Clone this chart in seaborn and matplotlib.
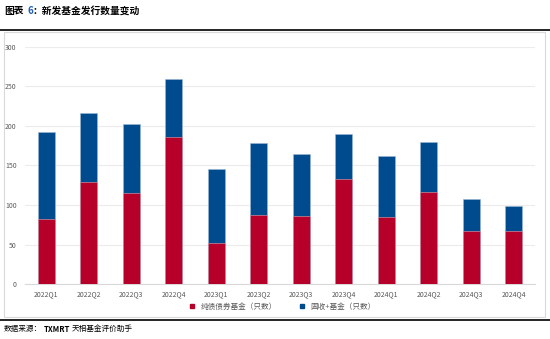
import matplotlib
matplotlib.use("Agg")
import matplotlib.pyplot as plt
import seaborn as sns
import pandas as pd
from matplotlib.patches import Rectangle
from matplotlib.lines import Line2D

quarters = ["2022Q1", "2022Q2", "2022Q3", "2022Q4", "2023Q1", "2023Q2",
            "2023Q3", "2023Q4", "2024Q1", "2024Q2", "2024Q3", "2024Q4"]
pure_bond = [82, 129, 115, 186, 52, 88, 86, 133, 85, 117, 67, 67]
fixed_plus = [110, 87, 87, 73, 93, 90, 79, 57, 77, 63, 41, 32]
yticks = [0, 50, 100, 150, 200, 250, 300]

RED = "#B70029"
BLUE = "#004B8D"
label_red = "纯债债券基金（只数）"
label_blue = "固收+基金（只数）"

sns.set_theme(style="white")
plt.rcParams["font.family"] = ["Noto Sans CJK SC", "DejaVu Sans"]

df = pd.DataFrame({"quarter": quarters, "pure": pure_bond,
                   "plus": fixed_plus})
df["total"] = df["pure"] + df["plus"]

fig = plt.figure(figsize=(5.5, 3.39), dpi=100)
ax = fig.add_axes([25 / 550, 1 - 284.3 / 339, 510 / 550, 237.8 / 339])

# outer chart frame
fig.patches.append(Rectangle((4 / 550, 1 - 317 / 339), 541 / 550, 285 / 339,
                             transform=fig.transFigure, fill=False,
                             edgecolor="#d9d9d9", linewidth=0.8, zorder=0))

# stacked bars: full height in blue, lower part in red
sns.barplot(data=df, x="quarter", y="total", color=BLUE, ax=ax, width=0.4,
            saturation=1, edgecolor="#9fb8d6", linewidth=0.4, zorder=2)
sns.barplot(data=df, x="quarter", y="pure", color=RED, ax=ax, width=0.4,
            saturation=1, edgecolor="#e2a3b0", linewidth=0.4, zorder=3)

ax.set_xlim(-0.5, len(quarters) - 0.5)
ax.set_ylim(0, 300)
ax.set_yticks(yticks)
ax.set_yticklabels([str(v) for v in yticks])
ax.set_xlabel("")
ax.set_ylabel("")
ax.grid(axis="y", color="#ececec", linewidth=0.8, zorder=0)
ax.set_axisbelow(True)
for s in ["top", "right", "left"]:
    ax.spines[s].set_visible(False)
ax.spines["bottom"].set_color("#d9d9d9")
ax.spines["bottom"].set_linewidth(0.8)
ax.tick_params(axis="both", length=0, labelsize=5, colors="#595959", pad=4)
ax.tick_params(axis="y", pad=6)

handles = [Line2D([], [], marker="s", linestyle="", color=RED, markersize=3),
           Line2D([], [], marker="s", linestyle="", color=BLUE, markersize=3)]
fig.legend(handles, [label_red, label_blue], loc="center",
           bbox_to_anchor=(280 / 550, 1 - 307 / 339), ncol=2, frameon=False,
           fontsize=5.5, handletextpad=0.1, columnspacing=2.2,
           labelcolor="#595959")

# title line
fig.text(4 / 550, 1 - 11 / 339, "图表", fontsize=7, fontweight="bold",
         color="black", va="center")
fig.text(27 / 550, 1 - 11 / 339, "6", fontsize=7, fontweight="bold",
         color="#1f5fb4", va="center")
fig.text(33 / 550, 1 - 11 / 339, "：新发基金发行数量变动", fontsize=7,
         fontweight="bold", color="black", va="center")

# rules above and below the chart
fig.add_artist(Line2D([0, 1], [1 - 30 / 339, 1 - 30 / 339],
                      transform=fig.transFigure, color="black", linewidth=1.2))
fig.add_artist(Line2D([0, 1], [1 - 320 / 339, 1 - 320 / 339],
                      transform=fig.transFigure, color="black", linewidth=1.2))

fig.text(4 / 550, 1 - 329 / 339, "数据来源：", fontsize=5.5, color="black",
         va="center")
fig.text(44 / 550, 1 - 329 / 339, "TXMRT", fontsize=5.5, fontweight="bold",
         color="black", va="center")
fig.text(72 / 550, 1 - 329 / 339, "天相基金评价助手", fontsize=5.5,
         color="black", va="center")

fig.savefig("out.png", dpi=100)
